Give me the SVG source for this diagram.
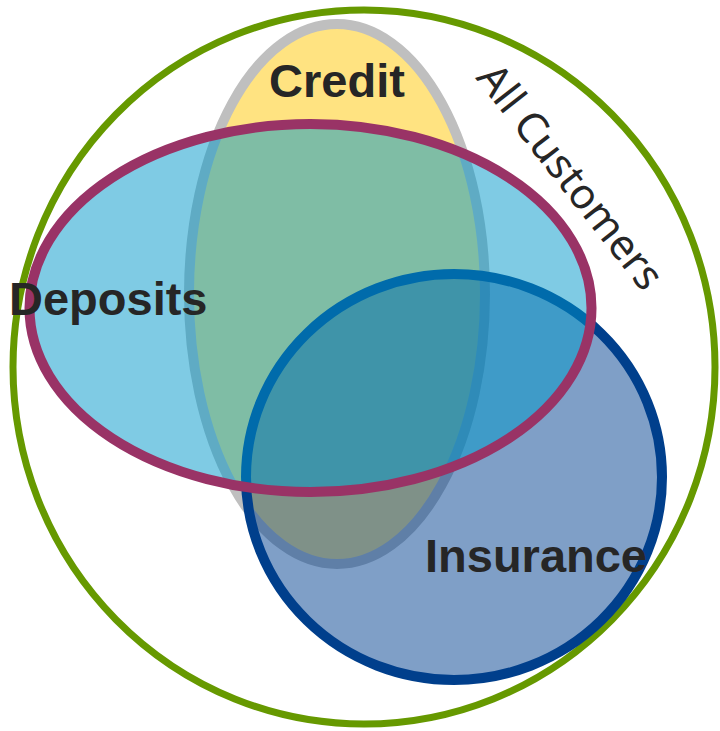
<svg xmlns="http://www.w3.org/2000/svg" width="720" height="731" viewBox="0 0 720 731">
  <style>
    .set { stroke-width: 10; }
    .label { font-family: "Liberation Sans", Arial, sans-serif; font-weight: bold; font-size: 47px; fill: #262626; }
    .outer-label { font-family: "Noto Sans", "Open Sans", sans-serif; font-size: 42px; fill: #262626; }
  </style>
  <rect width="720" height="731" fill="#ffffff"/>

  <!-- universe: all customers -->
  <g id="all-customers">
    <ellipse cx="364" cy="367" rx="351" ry="357" fill="none" stroke="#669900" stroke-width="7"/>
    <text class="outer-label" x="559" y="185.5" text-anchor="middle" transform="rotate(52 559 185.5)">All Customers</text>
  </g>

  <!-- product sets, back to front -->
  <g id="credit">
    <ellipse class="set" cx="337" cy="294" rx="148" ry="270" fill="#FFE381" stroke="#BFBFBF"/>
  </g>
  <g id="insurance">
    <ellipse class="set" cx="454" cy="477" rx="208" ry="203" fill="#003F8F" fill-opacity="0.5" stroke="#003F8C"/>
  </g>
  <g id="deposits">
    <ellipse class="set" cx="310.5" cy="308" rx="281" ry="184" fill="#0097C9" fill-opacity="0.5" stroke="#993366"/>
  </g>

  <!-- set labels -->
  <g id="labels">
    <text class="label" x="337" y="97" text-anchor="middle">Credit</text>
    <text class="label" x="9" y="315">Deposits</text>
    <text class="label" x="536" y="572" text-anchor="middle">Insurance</text>
  </g>

  <!-- no connectors in this diagram -->
  <g id="connectors"/>
</svg>
